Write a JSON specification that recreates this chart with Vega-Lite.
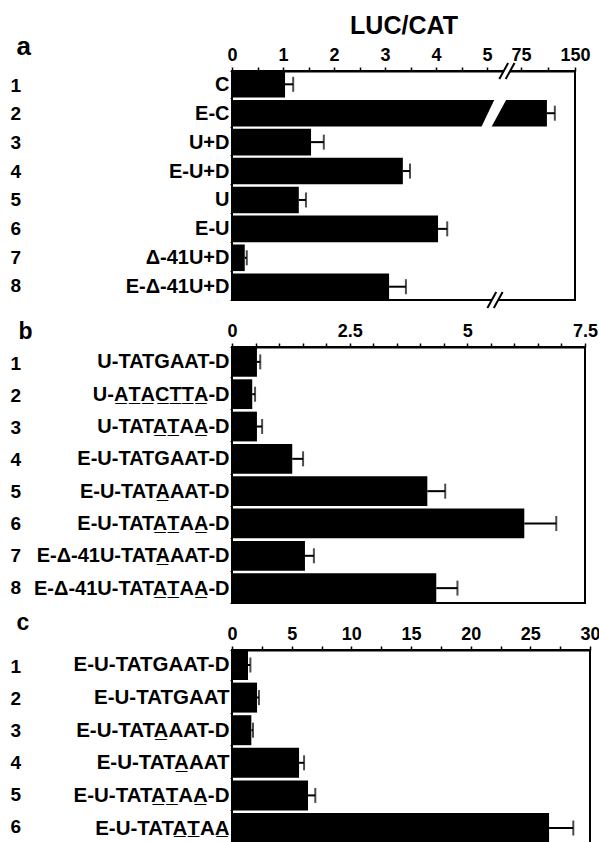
{
  "$schema": "https://vega.github.io/schema/vega-lite/v6.json",
  "padding": {"left": 9, "top": 12, "right": 0, "bottom": 0},
  "spacing": 47,
  "bounds": "flush",
  "config": {
    "font": "Liberation Sans",
    "view": {"stroke": "black", "strokeWidth": 2},
    "axis": {"labelFont": "Liberation Sans", "labelFontWeight": "bold", "labelColor": "black", "titleColor": "black", "titleFont": "Liberation Sans", "titleFontWeight": "bold", "domainColor": "black", "tickColor": "black", "grid": false}
  },
  "vconcat": [
    {
      "width": 343, "height": 229,
      "data": {"values": [
        {"num": "1", "name": "C", "value": 1.04, "upper": 1.2},
        {"num": "2", "name": "E-C", "value": 111, "upper": 122},
        {"num": "3", "name": "U+D", "value": 1.55, "upper": 1.8},
        {"num": "4", "name": "E-U+D", "value": 3.35, "upper": 3.49},
        {"num": "5", "name": "U", "value": 1.31, "upper": 1.45},
        {"num": "6", "name": "E-U", "value": 4.04, "upper": 4.22},
        {"num": "7", "name": "\u0394-41U+D", "value": 0.25, "upper": 0.29},
        {"num": "8", "name": "E-\u0394-41U+D", "value": 3.08, "upper": 3.41}
      ]},
      "resolve": {"scale": {"y": "independent"}, "axis": {"y": "independent"}},
      "layer": [
        {
          "mark": {"type": "bar", "color": "black"},
          "encoding": {
            "x": {"field": "value", "type": "quantitative",
              "scale": {"domain": [0, 5, 75, 150], "range": [0, 255, 289, 343], "nice": false},
              "axis": {"orient": "top", "title": "LUC/CAT", "titleFontSize": 25, "titlePadding": 8, "tickCount": 100,
                "values": [0, 0.5, 1, 1.5, 2, 2.5, 3, 3.5, 4, 4.5, 5, 75, 112.5, 150],
                "labelExpr": "datum.value % 1 == 0 ? format(datum.value, '~g') : ''",
                "labelFontSize": 18, "labelPadding": 3, "tickSize": 4, "tickWidth": 1.5, "domainWidth": 2, "labelOverlap": false, "labelFlush": false}},
            "y": {"field": "name", "type": "nominal", "sort": null,
              "scale": {"domain": ["C", "E-C", "U+D", "E-U+D", "U", "E-U", "\u0394-41U+D", "E-\u0394-41U+D"], "paddingInner": 0.08, "paddingOuter": 0},
              "axis": {"title": null, "labelFontSize": 20, "labelPadding": 1, "tickSize": 2, "tickBand": "extent", "domain": false, "labelLimit": 400}}
          }
        },
        {
          "mark": {"type": "rule", "strokeWidth": 2, "color": "black"},
          "encoding": {
            "x": {"field": "value", "type": "quantitative"},
            "x2": {"field": "upper"},
            "y": {"field": "name", "type": "nominal", "sort": null, "axis": null,
              "scale": {"domain": ["C", "E-C", "U+D", "E-U+D", "U", "E-U", "\u0394-41U+D", "E-\u0394-41U+D"], "paddingInner": 0.08, "paddingOuter": 0}}
          }
        },
        {
          "mark": {"type": "tick", "orient": "vertical", "size": 15, "thickness": 2, "color": "black"},
          "encoding": {
            "x": {"field": "upper", "type": "quantitative"},
            "y": {"field": "name", "type": "nominal", "sort": null, "axis": null,
              "scale": {"domain": ["C", "E-C", "U+D", "E-U+D", "U", "E-U", "\u0394-41U+D", "E-\u0394-41U+D"], "paddingInner": 0.08, "paddingOuter": 0}}
          }
        },
        {
          "data": {"values": [{"name": "E-C", "value": 19.4}]},
          "mark": {"type": "point", "shape": "M -0.93 1.05 L 0.07 -1.05 L 0.87 -1.05 L -0.27 1.05 Z", "size": 900, "filled": true, "fill": "white", "opacity": 1, "strokeOpacity": 0},
          "encoding": {
            "x": {"field": "value", "type": "quantitative"},
            "y": {"field": "name", "type": "nominal", "sort": null, "axis": null,
              "scale": {"domain": ["C", "E-C", "U+D", "E-U+D", "U", "E-U", "\u0394-41U+D", "E-\u0394-41U+D"], "paddingInner": 0.08, "paddingOuter": 0}}
          }
        },
        {
          "data": {"values": [{"edge": 1, "value": 46}, {"edge": 0, "value": 21.5}]},
          "mark": {"type": "point", "shape": "M -0.95 1 L 0.15 -1 L 0.95 -1 L -0.15 1 Z", "size": 256, "filled": true, "fill": "white", "opacity": 1, "strokeOpacity": 0, "clip": false},
          "encoding": {
            "x": {"field": "value", "type": "quantitative"},
            "y": {"field": "edge", "type": "quantitative", "axis": null, "scale": {"domain": [0, 1], "nice": false, "zero": false}}
          }
        },
        {
          "data": {"values": [{"edge": 1, "value": 46}, {"edge": 0, "value": 21.5}]},
          "mark": {"type": "point", "shape": "M -0.95 1 L 0.15 -1 M -0.15 1 L 0.95 -1", "size": 256, "filled": false, "stroke": "black", "strokeWidth": 2, "opacity": 1, "clip": false},
          "encoding": {
            "x": {"field": "value", "type": "quantitative"},
            "y": {"field": "edge", "type": "quantitative", "axis": null, "scale": {"domain": [0, 1], "nice": false, "zero": false}}
          }
        },
        {
          "mark": {"type": "point", "opacity": 0},
          "encoding": {
            "x": {"field": "value", "type": "quantitative"},
            "y": {"field": "num", "type": "ordinal", "sort": null,
              "scale": {"domain": ["1", "2", "3", "4", "5", "6", "7", "8"], "paddingInner": 0.08, "paddingOuter": 0},
              "axis": {"orient": "left", "ticks": false, "tickSize": 0, "domain": false, "labelAlign": "left", "labelPadding": 222, "labelFontSize": 19,
                "title": "a", "titleAngle": 0, "titleX": -216, "titleY": -17, "titleAlign": "left", "titleBaseline": "alphabetic", "titleFontSize": 26}}
          }
        }
      ]
    },
    {
      "width": 353, "height": 256,
      "data": {"values": [
        {"num": "1", "name": "U-TATGAAT-D", "value": 0.53, "upper": 0.6},
        {"num": "2", "name": "U-A\u0332T\u0332A\u0332C\u0332T\u0332T\u0332A\u0332-D", "value": 0.43, "upper": 0.49},
        {"num": "3", "name": "U-TATA\u0332T\u0332AA\u0332-D", "value": 0.53, "upper": 0.64},
        {"num": "4", "name": "E-U-TATGAAT-D", "value": 1.28, "upper": 1.51},
        {"num": "5", "name": "E-U-TATA\u0332AAT-D", "value": 4.15, "upper": 4.53},
        {"num": "6", "name": "E-U-TATA\u0332T\u0332AA\u0332-D", "value": 6.21, "upper": 6.89},
        {"num": "7", "name": "E-\u0394-41U-TATA\u0332AAT-D", "value": 1.55, "upper": 1.74},
        {"num": "8", "name": "E-\u0394-41U-TATA\u0332T\u0332AA\u0332-D", "value": 4.34, "upper": 4.79}
      ]},
      "resolve": {"scale": {"y": "independent"}, "axis": {"y": "independent"}},
      "layer": [
        {
          "mark": {"type": "bar", "color": "black"},
          "encoding": {
            "x": {"field": "value", "type": "quantitative",
              "scale": {"domain": [0, 7.5], "nice": false},
              "axis": {"orient": "top", "title": null, "tickCount": 100,
                "values": [0, 0.5, 1, 1.5, 2, 2.5, 3, 3.5, 4, 4.5, 5, 5.5, 6, 6.5, 7, 7.5],
                "labelExpr": "datum.value % 2.5 == 0 ? format(datum.value, '~g') : ''",
                "labelFontSize": 18, "labelPadding": 3, "tickSize": 4, "tickWidth": 1.5, "domainWidth": 2, "labelOverlap": false, "labelFlush": false}},
            "y": {"field": "name", "type": "nominal", "sort": null,
              "scale": {"paddingInner": 0.08, "paddingOuter": 0},
              "axis": {"title": null, "labelFontSize": 20, "labelPadding": 1, "tickSize": 2, "tickBand": "extent", "domain": false, "labelLimit": 400}}
          }
        },
        {
          "mark": {"type": "rule", "strokeWidth": 2, "color": "black"},
          "encoding": {
            "x": {"field": "value", "type": "quantitative"},
            "x2": {"field": "upper"},
            "y": {"field": "name", "type": "nominal", "sort": null, "axis": null, "scale": {"paddingInner": 0.08, "paddingOuter": 0}}
          }
        },
        {
          "mark": {"type": "tick", "orient": "vertical", "size": 15, "thickness": 2, "color": "black"},
          "encoding": {
            "x": {"field": "upper", "type": "quantitative"},
            "y": {"field": "name", "type": "nominal", "sort": null, "axis": null, "scale": {"paddingInner": 0.08, "paddingOuter": 0}}
          }
        },
        {
          "mark": {"type": "point", "opacity": 0},
          "encoding": {
            "x": {"field": "value", "type": "quantitative"},
            "y": {"field": "num", "type": "ordinal", "sort": null,
              "scale": {"paddingInner": 0.08, "paddingOuter": 0},
              "axis": {"orient": "left", "ticks": false, "tickSize": 0, "domain": false, "labelAlign": "left", "labelPadding": 222, "labelFontSize": 19,
                "title": "b", "titleAngle": 0, "titleX": -214, "titleY": -9, "titleAlign": "left", "titleBaseline": "alphabetic", "titleFontSize": 23}}
          }
        }
      ]
    },
    {
      "width": 358, "height": 193,
      "data": {"values": [
        {"num": "1", "name": "E-U-TATGAAT-D", "value": 1.34, "upper": 1.54},
        {"num": "2", "name": "E-U-TATGAAT", "value": 2.1, "upper": 2.26},
        {"num": "3", "name": "E-U-TATA\u0332AAT-D", "value": 1.62, "upper": 1.76},
        {"num": "4", "name": "E-U-TATA\u0332AAT", "value": 5.62, "upper": 6.04},
        {"num": "5", "name": "E-U-TATA\u0332T\u0332AA\u0332-D", "value": 6.37, "upper": 6.98},
        {"num": "6", "name": "E-U-TATA\u0332T\u0332AA\u0332", "value": 26.57, "upper": 28.6}
      ]},
      "resolve": {"scale": {"y": "independent"}, "axis": {"y": "independent"}},
      "layer": [
        {
          "mark": {"type": "bar", "color": "black"},
          "encoding": {
            "x": {"field": "value", "type": "quantitative",
              "scale": {"domain": [0, 30], "nice": false},
              "axis": {"orient": "top", "title": null, "tickCount": 100,
                "values": [0, 2.5, 5, 7.5, 10, 12.5, 15, 17.5, 20, 22.5, 25, 27.5, 30],
                "labelExpr": "datum.value % 5 == 0 ? format(datum.value, '~g') : ''",
                "labelFontSize": 18, "labelPadding": 3, "tickSize": 4, "tickWidth": 1.5, "domainWidth": 2, "labelOverlap": false, "labelFlush": false}},
            "y": {"field": "name", "type": "nominal", "sort": null,
              "scale": {"paddingInner": 0.08, "paddingOuter": 0},
              "axis": {"title": null, "labelFontSize": 20.5, "labelPadding": 1, "tickSize": 2, "tickBand": "extent", "domain": false, "labelLimit": 400}}
          }
        },
        {
          "mark": {"type": "rule", "strokeWidth": 2, "color": "black"},
          "encoding": {
            "x": {"field": "value", "type": "quantitative"},
            "x2": {"field": "upper"},
            "y": {"field": "name", "type": "nominal", "sort": null, "axis": null, "scale": {"paddingInner": 0.08, "paddingOuter": 0}}
          }
        },
        {
          "mark": {"type": "tick", "orient": "vertical", "size": 15, "thickness": 2, "color": "black"},
          "encoding": {
            "x": {"field": "upper", "type": "quantitative"},
            "y": {"field": "name", "type": "nominal", "sort": null, "axis": null, "scale": {"paddingInner": 0.08, "paddingOuter": 0}}
          }
        },
        {
          "mark": {"type": "point", "opacity": 0},
          "encoding": {
            "x": {"field": "value", "type": "quantitative"},
            "y": {"field": "num", "type": "ordinal", "sort": null,
              "scale": {"paddingInner": 0.08, "paddingOuter": 0},
              "axis": {"orient": "left", "ticks": false, "tickSize": 0, "domain": false, "labelAlign": "left", "labelPadding": 222, "labelFontSize": 19,
                "title": "c", "titleAngle": 0, "titleX": -216, "titleY": -21, "titleAlign": "left", "titleBaseline": "alphabetic", "titleFontSize": 23}}
          }
        }
      ]
    }
  ]
}
